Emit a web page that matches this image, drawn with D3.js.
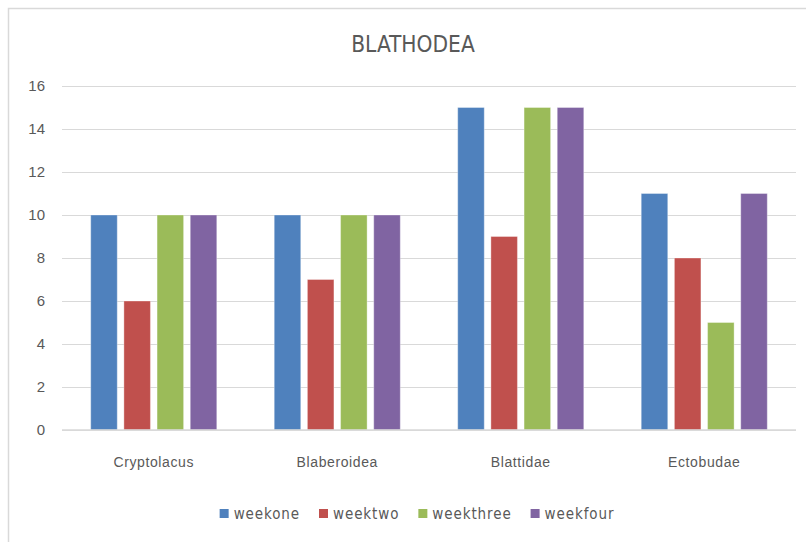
<!DOCTYPE html>
<html>
<head>
<meta charset="utf-8">
<script src="https://cdn.jsdelivr.net/npm/d3@7"></script>
<style>
  html, body { margin: 0; padding: 0; background: #ffffff; }
  svg { display: block; }
  text { font-family: "Liberation Sans Narrow", "Arial Narrow", "DejaVu Sans Condensed", sans-serif; fill: #595959; }
</style>
</head>
<body>
<svg id="chart" width="806" height="542"></svg>
<script>
// Chart data
const title = "BLATHODEA";
const categories = ["Cryptolacus", "Blaberoidea", "Blattidae", "Ectobudae"];
const seriesNames = ["weekone", "weektwo", "weekthree", "weekfour"];
const weekOne = [10, 10, 15, 11];
const weekTwo = [6, 7, 9, 8];
const weekThree = [10, 10, 15, 5];
const weekFour = [10, 10, 15, 11];
const yTicks = [0, 2, 4, 6, 8, 10, 12, 14, 16];
const colors = ["#4F81BD", "#C0504D", "#9BBB59", "#8064A2"];

const seriesValues = [weekOne, weekTwo, weekThree, weekFour];
const rows = categories.map((c, i) => ({
  category: c,
  values: seriesNames.map((s, j) => ({ series: s, value: seriesValues[j][i], color: colors[j] }))
}));

const svg = d3.select("#chart");

// Chart frame
svg.append("rect")
  .attr("x", 8.5).attr("y", 8.5)
  .attr("width", 830).attr("height", 560)
  .attr("fill", "#ffffff")
  .attr("stroke", "#D9D9D9").attr("stroke-width", 1.5);

const plot = { left: 62, right: 796, top: 86, bottom: 430 };

const y = d3.scaleLinear().domain([0, 16]).range([plot.bottom, plot.top]);
const x0 = d3.scaleBand().domain(categories).range([plot.left, plot.right])
  .paddingInner(0.313).paddingOuter(0.1565);
const x1 = d3.scaleBand().domain(seriesNames).range([0, x0.bandwidth()])
  .paddingInner(0.2).paddingOuter(0);

// Title
svg.append("text")
  .attr("x", 413).attr("y", 52)
  .attr("text-anchor", "middle")
  .style("font-size", "22.5px")
  .text(title);

// Gridlines and y-axis labels
const yAxis = d3.axisLeft(y).tickValues(yTicks).tickSize(plot.right - plot.left).tickPadding(17)
  .tickFormat(d3.format("d"));
const gy = svg.append("g")
  .attr("transform", `translate(${plot.right},0)`)
  .call(yAxis);
gy.select(".domain").remove();
gy.selectAll(".tick line").attr("stroke", "#D9D9D9").attr("stroke-width", 1.2);
gy.selectAll(".tick text")
  .style("font-size", "15px")
  .style("font-family", "'Liberation Sans Narrow', sans-serif")
  .attr("fill", "#595959");

// Bars
const groups = svg.append("g").selectAll("g")
  .data(rows).join("g")
  .attr("transform", d => `translate(${x0(d.category)},0)`);
groups.selectAll("rect")
  .data(d => d.values).join("rect")
  .attr("x", d => x1(d.series))
  .attr("y", d => y(d.value))
  .attr("width", x1.bandwidth())
  .attr("height", d => y(0) - y(d.value))
  .attr("fill", d => d.color)
  .attr("stroke", "rgba(255,255,255,0.35)")
  .attr("stroke-width", 1);

// Category axis line
svg.append("line")
  .attr("x1", plot.left).attr("x2", plot.right)
  .attr("y1", y(0)).attr("y2", y(0))
  .attr("stroke", "#D9D9D9").attr("stroke-width", 1.5);

// Category labels
const xAxis = d3.axisBottom(x0).tickSize(0).tickPadding(0);
const gx = svg.append("g").attr("transform", `translate(0,${plot.bottom})`).call(xAxis);
gx.select(".domain").remove();
gx.selectAll(".tick text")
  .attr("y", 37).attr("dy", 0)
  .style("font-size", "14px")
  .style("letter-spacing", "0.6px")
  .style("font-family", "'Liberation Sans Narrow', sans-serif")
  .attr("fill", "#595959");

// Legend
const legend = svg.append("g");
const items = legend.selectAll("g").data(seriesNames).join("g");
items.append("rect")
  .attr("width", 9).attr("height", 9)
  .attr("y", 509)
  .attr("fill", (d, i) => colors[i]);
items.append("text")
  .attr("x", 14).attr("y", 519)
  .style("font-size", "15px")
  .style("letter-spacing", "0.9px")
  .text(d => d);
const widths = [];
items.each(function () {
  widths.push(d3.select(this).select("text").node().getComputedTextLength());
});
const gap = 19;
const total = widths.reduce((a, w) => a + 14 + w, 0) + gap * (widths.length - 1);
let start = 417 - total / 2;
items.attr("transform", (d, i) => {
  const tx = start;
  start += 14 + widths[i] + gap;
  return `translate(${tx},0)`;
});
</script>
</body>
</html>
